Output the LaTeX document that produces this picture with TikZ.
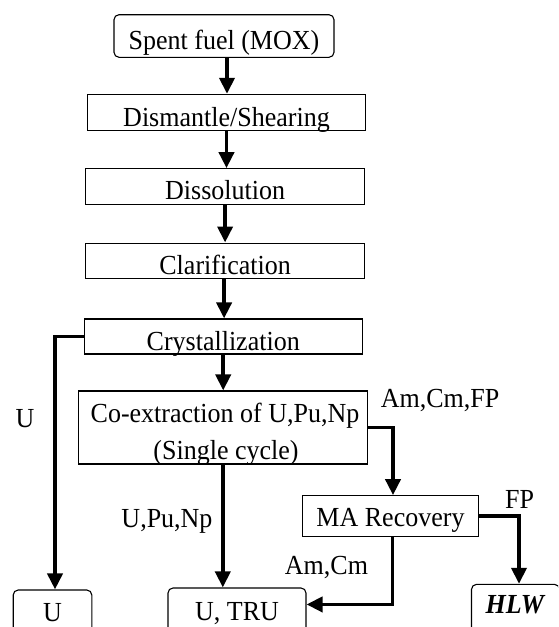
\documentclass[tikz,border=0pt]{standalone}
\usepackage{fontspec}
\usepackage{graphicx}
\setmainfont{Liberation Serif}
\usetikzlibrary{arrows.meta,calc}
\newcommand\stx[1]{\scalebox{1}[1.06]{#1}}
\tikzset{
  box/.style={draw, line width=1.1pt, rectangle, inner sep=0pt, font=\fontsize{26}{30}\selectfont},
  rbox/.style={box, rounded corners=5pt},
  txt/.style={inner sep=0pt, anchor=base, font=\fontsize{26}{30}\selectfont},
  arr/.style={line width=3.8pt, -{Triangle[length=16pt,width=15pt]}},
}
\begin{document}
\begin{tikzpicture}[x=1pt,y=-1pt]
\useasboundingbox (0,0) rectangle (558,627);
\clip (0,0) rectangle (558,627);
% boxes
\node[rbox, minimum width=220pt, minimum height=42.6pt, text height=34.3pt, text depth=8.3pt] (sf) at (224,36) {\stx{Spent fuel (MOX)}};
\node[box, minimum width=278.6pt, minimum height=35.7pt, text height=32.4pt, text depth=3.3pt] (dis) at (226.5,112.2) {\stx{Dismantle/Shearing}};
\node[box, minimum width=278.6pt, minimum height=35.6pt, text height=30.6pt, text depth=5pt] (dsl) at (225.1,186.5) {\stx{Dissolution}};
\node[box, minimum width=278.6pt, minimum height=35.3pt, text height=31pt, text depth=4.3pt] (cla) at (225.1,260.7) {\stx{Clarification}};
\node[box, minimum width=278.3pt, minimum height=35pt, text height=31.7pt, text depth=3.3pt] (cry) at (223.2,336.5) {\stx{Crystallization}};
\node[box, minimum width=289pt, minimum height=73pt] (co) at (222.8,427.5) {};
\node[txt] (coA) at (225,422.7) {\stx{Co-extraction of U,Pu,Np}};
\node[txt] (coB) at (226,459.3) {\stx{(Single cycle)}};
\node[box, minimum width=176.1pt, minimum height=41pt, text height=31pt, text depth=10pt] (ma) at (390.5,516.2) {\stx{MA Recovery}};
\node[rbox, minimum width=78.6pt, minimum height=60pt, text height=31pt, text depth=29pt] (ubox) at (52.5,620) {\stx{U}};
\node[rbox, minimum width=138pt, minimum height=62pt, text height=32pt, text depth=30pt] (utru) at (237,619) {\stx{U, TRU}};
\node[rbox, minimum width=88pt, minimum height=65.7pt, text height=29pt, text depth=36.7pt] (hlw) at (515.5,617.2) {\stx{\textbf{\textit{HLW}}}};
% labels
\node[txt] (lu) at (25,427) {\stx{U}};
\node[txt] (lupn) at (167,527) {\stx{U,Pu,Np}};
\node[txt] (lacf) at (440,407) {\stx{Am,Cm,FP}};
\node[txt] (lfp) at (519.5,508) {\stx{FP}};
\node[txt] (lac) at (326.5,574) {\stx{Am,Cm}};
% connectors
\draw[arr] ([xshift=3pt]sf.south) -- ([xshift=3pt]sf.south |- dis.north);
\draw[arr] (dis.south) -- (dis.south |- dsl.north);
\draw[arr] (dsl.south) -- (dsl.south |- cla.north);
\draw[arr] ([xshift=-1pt]cla.south) -- ([xshift=-1pt]cla.south |- cry.north);
\draw[arr] (cry.south) -- (cry.south |- co.north);
\draw[arr] (cry.west) -| ([xshift=2.5pt]ubox.north);
\draw[arr] (co.south) -- (co.south |- utru.north);
\draw[arr] (co.east) -| ([xshift=2.5pt]ma.north);
\draw[arr] (ma.east) -| ([xshift=3.5pt]hlw.north);
\draw[arr] ([xshift=2pt]ma.south) |- ($(utru.north east)+(0,17)$);
\end{tikzpicture}
\end{document}
